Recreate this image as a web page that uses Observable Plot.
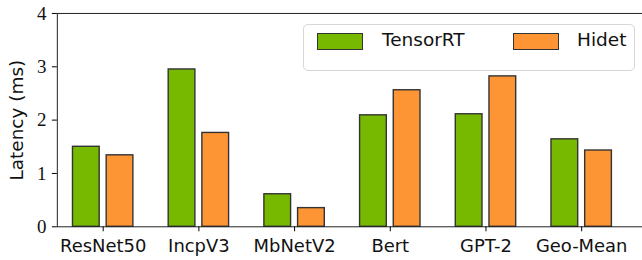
<!DOCTYPE html>
<html>
<head>
<meta charset="utf-8">
<script src="https://cdn.jsdelivr.net/npm/d3@7"></script>
<script src="https://cdn.jsdelivr.net/npm/@observablehq/plot@0.6"></script>
<style>
  html, body { margin: 0; padding: 0; overflow: hidden; background: #fff; }
  #wrap { position: relative; width: 642px; height: 260px; overflow: hidden; }
  #legend {
    position: absolute; left: 303px; top: 24px; width: 330px; height: 45px;
    border: 1px solid #d6d6d6; border-radius: 5px; background: rgba(255,255,255,0.85);
    font-family: "DejaVu Sans", sans-serif; font-size: 18.5px; color: #111;
  }
  .sw { position: absolute; top: 8px; width: 44px; height: 15px; border: 1.3px solid #333; }
  .lt { position: absolute; top: 3px; line-height: 24px; }
</style>
</head>
<body>
<div id="wrap">
  <div id="chart"></div>
  <div id="legend"></div>
</div>
<script>
const categories = ["ResNet50", "IncpV3", "MbNetV2", "Bert", "GPT-2", "Geo-Mean"];
const series = ["TensorRT", "Hidet"];
const tensorrt = [1.50, 2.95, 0.61, 2.09, 2.11, 1.64];
const hidet = [1.34, 1.76, 0.35, 2.56, 2.82, 1.43];
const colors = ["#76b900", "#fd9535"];
const yTicks = [0, 1, 2, 3, 4];
const yLabel = "Latency (ms)";

const data = categories.flatMap((c, i) => [
  {category: c, series: series[0], value: tensorrt[i]},
  {category: c, series: series[1], value: hidet[i]}
]);

const chart = Plot.plot({
  width: 644,
  height: 260,
  marginLeft: 57,
  marginRight: 0,
  marginTop: 13,
  marginBottom: 33,
  style: {background: "transparent", overflow: "visible"},
  x: {domain: categories, range: [53.5, 631.9], padding: 0, label: null},
  y: {domain: [0, 4], label: null},
  color: {domain: series, range: colors},
  marks: [
    Plot.barY(data.filter(d => d.series === series[0]), {
      x: "category", y: "value", fill: "series",
      stroke: "#333", strokeWidth: 1.4, insetLeft: 17.7, insetRight: 51.5
    }),
    Plot.barY(data.filter(d => d.series === series[1]), {
      x: "category", y: "value", fill: "series",
      stroke: "#333", strokeWidth: 1.4, insetLeft: 51.5, insetRight: 17.7
    }),
    Plot.frame({stroke: "#222", strokeWidth: 1}),
    Plot.axisY({
      ticks: yTicks, tickFormat: d => String(d), tickSize: 5, tickPadding: 6,
      fontSize: 19, fontFamily: "Liberation Serif, serif", fill: "#111", label: null
    }),
    Plot.text([yLabel], {
      frameAnchor: "left", textAnchor: "middle", rotate: -90, dx: -40, text: d => d,
      fontSize: 18.5, fontFamily: "DejaVu Sans, sans-serif", fill: "#111"
    }),
    Plot.axisX({
      tickSize: 5, tickPadding: 7, fontSize: 18,
      fontFamily: "DejaVu Sans, sans-serif", fill: "#111", label: null
    })
  ]
});
document.getElementById("chart").appendChild(chart);

const legend = document.getElementById("legend");
const swLeft = [13, 209];
const txtLeft = [78, 273];
series.forEach((s, i) => {
  const sw = document.createElement("div");
  sw.className = "sw";
  sw.style.left = swLeft[i] + "px";
  sw.style.background = colors[i];
  legend.appendChild(sw);
  const t = document.createElement("div");
  t.className = "lt";
  t.style.left = txtLeft[i] + "px";
  t.textContent = s;
  legend.appendChild(t);
});
</script>
</body>
</html>
